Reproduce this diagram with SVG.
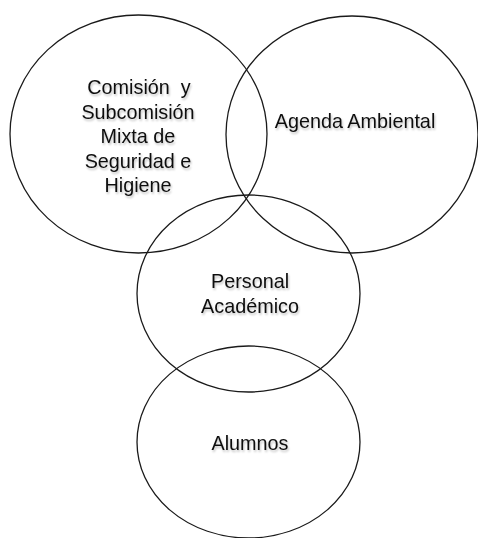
<svg xmlns="http://www.w3.org/2000/svg" width="478" height="538" viewBox="0 0 478 538">
<style>
.c{fill:none;stroke:#1a1a1a;stroke-width:1.3}
.t{font-family:"Liberation Sans",Arial,sans-serif;font-size:19.8px;fill:#111;text-anchor:middle;filter:url(#sh)}
</style>
<defs>
<filter id="sh" x="-10%" y="-10%" width="130%" height="140%">
<feGaussianBlur in="SourceAlpha" stdDeviation="1"/>
<feOffset dx="1" dy="1.5" result="b"/>
<feComponentTransfer><feFuncA type="linear" slope="0.25"/></feComponentTransfer>
<feMerge><feMergeNode/><feMergeNode in="SourceGraphic"/></feMerge>
</filter>
</defs>
<rect width="478" height="538" fill="#fff"/>
<g id="comision">
<ellipse class="c" cx="138.5" cy="134" rx="128.5" ry="119"/>
<text class="t" xml:space="preserve"><tspan x="139" y="94">Comisión  y</tspan><tspan x="138" y="119">Subcomisión</tspan><tspan x="138" y="143">Mixta de</tspan><tspan x="138" y="168">Seguridad e</tspan><tspan x="138" y="192">Higiene</tspan></text>
</g>
<g id="agenda">
<ellipse class="c" cx="352" cy="134.5" rx="126" ry="118.5"/>
<text class="t" x="355" y="128">Agenda Ambiental</text>
</g>
<g id="personal">
<ellipse class="c" cx="248.5" cy="293.5" rx="111.5" ry="98.5"/>
<text class="t"><tspan x="250" y="288">Personal</tspan><tspan x="250" y="313">Académico</tspan></text>
</g>
<g id="alumnos">
<ellipse class="c" cx="248.5" cy="442" rx="111.5" ry="96"/>
<text class="t" x="250" y="450">Alumnos</text>
</g>
<g id="connectors"/>
</svg>
